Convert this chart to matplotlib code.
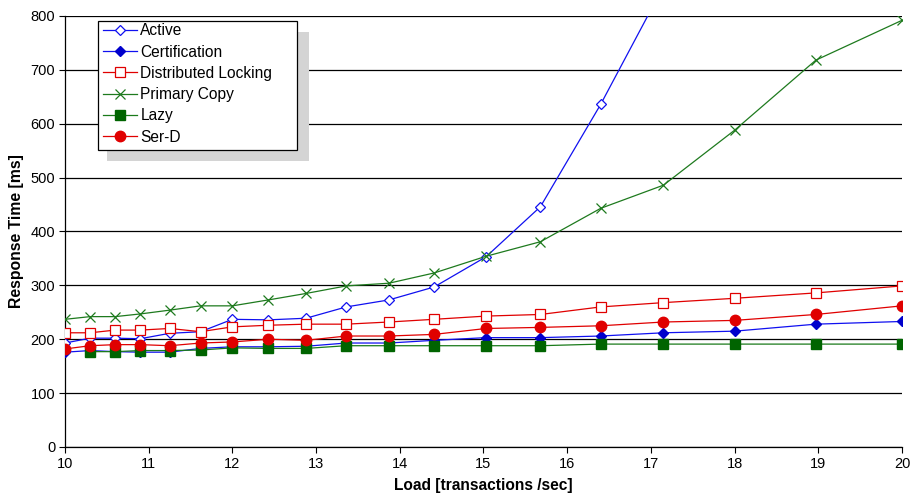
import matplotlib.pyplot as plt
from matplotlib.patches import Rectangle

# Load values (transactions/sec)
load = [10, 10.3, 10.6, 10.9, 11.25, 11.62, 12, 12.43, 12.88, 13.36,
        13.87, 14.41, 15.03, 15.68, 16.4, 17.15, 18.0, 18.97, 20]

# Response times [ms]
active = [193, 202, 202, 201, 211, 214, 237, 236, 239, 260,
          273, 297, 353, 446, 636, 855]
certification = [176, 179, 177, 176, 176, 183, 186, 186, 187, 193,
                 193, 198, 203, 203, 206, 212, 215, 228, 233]
dist_locking = [212, 212, 217, 217, 220, 214, 223, 226, 228, 228,
                232, 237, 243, 246, 260, 268, 276, 286, 299]
primary_copy = [237, 242, 242, 247, 254, 262, 262, 273, 285, 299,
                304, 323, 354, 381, 443, 486, 588, 718, 792]
lazy = [177, 177, 179, 179, 180, 184, 183, 183, 188,
        188, 188, 188, 188, 191, 191, 191, 191, 191]
ser_d = [182, 188, 190, 190, 188, 193, 195, 200, 198, 206,
         206, 209, 220, 222, 225, 232, 235, 246, 262]

labels = ['Active', 'Certification', 'Distributed Locking',
          'Primary Copy', 'Lazy', 'Ser-D']

plt.rcParams['font.family'] = ['Liberation Sans', 'DejaVu Sans']

fig = plt.figure(figsize=(9.1, 4.93), dpi=100)
ax = fig.add_axes([65 / 910, 46 / 493, 837 / 910, 431 / 493])

blue = '#1010f0'
red = '#e00000'

ax.plot(load[:len(active)], active, color=blue, lw=0.9, marker='D', ms=5.5,
        mfc='white', mec=blue, mew=0.9, label=labels[0], zorder=3)
ax.plot(load, certification, color=blue, lw=0.9, marker='D', ms=5.5,
        mfc='#0000cc', mec='#0000cc', label=labels[1], zorder=3)
ax.plot(load, dist_locking, color=red, lw=0.9, marker='s', ms=7,
        mfc='white', mec=red, mew=0.9, label=labels[2], zorder=3)
ax.plot(load, primary_copy, color='#1e7a1e', lw=0.9, marker='x', ms=7,
        mew=0.9, label=labels[3], zorder=3)
ax.plot(load[1:], lazy, color='#1a7a1a', lw=0.9, marker='s', ms=7,
        mfc='#006400', mec='#006400', label=labels[4], zorder=3)
ax.plot(load, ser_d, color=red, lw=0.9, marker='o', ms=7.5,
        mfc=red, mec=red, label=labels[5], zorder=4)

ax.set_xlim(10, 20)
ax.set_ylim(0, 800)
ax.set_xticks(range(10, 21))
ax.set_yticks(range(0, 801, 100))
ax.grid(axis='y', color='black', lw=0.9)
ax.set_axisbelow(True)

for side in ['top', 'right']:
    ax.spines[side].set_visible(False)
for side in ['left', 'bottom']:
    ax.spines[side].set_linewidth(0.9)

ax.tick_params(axis='both', direction='out', length=4, width=0.8,
               labelsize=10.5, pad=3)

ax.set_xlabel('Load [transactions /sec]', fontsize=11.2, fontweight='bold',
              labelpad=5)
ax.set_ylabel('Response Time [ms]', fontsize=11.3, fontweight='bold', labelpad=5)

# gray drop shadow and white box behind the legend
ax.add_patch(Rectangle((0.0502, 0.6636), 0.2413, 0.2994, transform=ax.transAxes,
                       facecolor='#d4d4d4', edgecolor='none', zorder=5,
                       clip_on=False))
ax.add_patch(Rectangle((0.0394, 0.6891), 0.2378, 0.3000, transform=ax.transAxes,
                       facecolor='white', edgecolor='black', lw=0.9, zorder=5.5,
                       clip_on=False))

leg = ax.legend(loc='upper left', bbox_to_anchor=(0.0454, 0.9826),
                borderaxespad=0, frameon=False, fontsize=11.2,
                handlelength=2.2, handletextpad=0.2, labelspacing=0.4,
                borderpad=0)
leg.set_zorder(6)

fig.savefig('out.png', dpi=100)
